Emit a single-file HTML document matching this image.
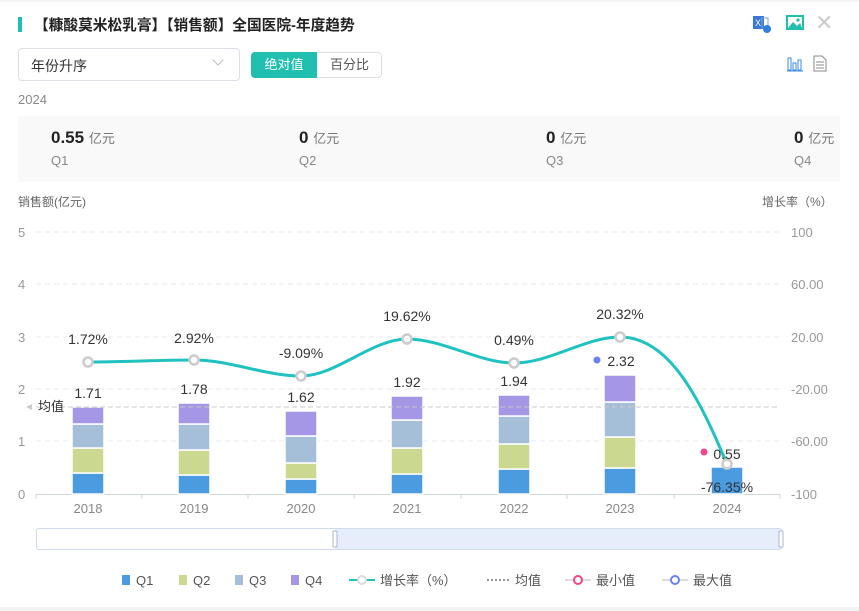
<!DOCTYPE html>
<html><head><meta charset="utf-8"><style>
*{margin:0;padding:0;box-sizing:border-box}
body{width:859px;height:611px;background:#fff;font-family:"Liberation Sans","Noto Sans CJK SC",sans-serif;position:relative;overflow:hidden;color:#333}
.abs{position:absolute}
</style></head><body>
<div class="abs" style="left:0;top:0;width:859px;height:2px;background:#f3f3f3"></div>
<div class="abs" style="left:18px;top:17px;width:4px;height:15px;background:#1fbfb0"></div>
<div class="abs" style="left:34px;top:14px;font-size:14.7px;font-weight:bold;color:#222">【糠酸莫米松乳膏】【销售额】全国医院-年度趋势</div>
<svg class="abs" style="left:752px;top:14px" width="20" height="20"><rect x="1" y="2" width="11" height="13" fill="#3a78d8"/><text x="3" y="12" font-size="9" fill="#fff" font-family="Liberation Sans">X</text><rect x="10" y="4" width="6" height="10" fill="none" stroke="#7aa3e0"/><circle cx="15" cy="15" r="4" fill="#2f7fe0"/></svg>
<svg class="abs" style="left:786px;top:15px" width="18" height="16"><rect x="1" y="1" width="16" height="13" fill="none" stroke="#1fbfb0" stroke-width="2"/><path d="M2 13 L7 7 L11 11 L14 8 L16 13Z" fill="#1fbfb0"/><circle cx="12" cy="5" r="1.6" fill="#1fbfb0"/></svg>
<div class="abs" style="left:815px;top:10px;font-size:22px;color:#ccc">✕</div>
<svg class="abs" style="left:787px;top:56px" width="16" height="16"><rect x="1" y="2" width="3" height="12" fill="none" stroke="#3a8ee0"/><rect x="6" y="7" width="3" height="7" fill="none" stroke="#3a8ee0"/><rect x="11" y="4" width="3" height="10" fill="none" stroke="#3a8ee0"/><line x1="0" y1="15" x2="16" y2="15" stroke="#3a8ee0"/></svg>
<svg class="abs" style="left:813px;top:55px" width="14" height="17"><path d="M1 1 H9 L13 5 V16 H1Z" fill="none" stroke="#888"/><line x1="3" y1="7" x2="11" y2="7" stroke="#888"/><line x1="3" y1="10" x2="11" y2="10" stroke="#888"/><line x1="3" y1="13" x2="11" y2="13" stroke="#888"/></svg>
<div class="abs" style="left:18px;top:48px;width:222px;height:33px;border:1px solid #dcdfe6;border-radius:4px"></div>
<div class="abs" style="left:31px;top:56px;font-size:14px;color:#333">年份升序</div>
<div class="abs" style="left:214px;top:56px;width:8px;height:8px;border-right:1px solid #bbb;border-bottom:1px solid #bbb;transform:rotate(45deg)"></div>
<div class="abs" style="left:251px;top:52px;width:131px;height:26px;border:1px solid #dcdfe6;border-radius:4px"></div>
<div class="abs" style="left:251px;top:52px;width:66px;height:26px;background:#20bfb0;border-radius:4px 0 0 4px;color:#fff;font-size:13px;line-height:26px;text-align:center">绝对值</div>
<div class="abs" style="left:317px;top:52px;width:65px;height:26px;color:#555;font-size:13px;line-height:26px;text-align:center">百分比</div>
<div class="abs" style="left:18px;top:92px;font-size:13px;color:#888">2024</div>
<div class="abs" style="left:18px;top:116px;width:822px;height:66px;background:#f9f9f9"></div>
<div class="abs" style="left:51px;top:128px;font-size:17px;font-weight:bold;color:#222">0.55 <span style="font-size:13px;font-weight:normal;color:#777">亿元</span></div>
<div class="abs" style="left:51px;top:153px;font-size:13px;color:#888">Q1</div>
<div class="abs" style="left:299px;top:128px;font-size:17px;font-weight:bold;color:#222">0 <span style="font-size:13px;font-weight:normal;color:#777">亿元</span></div>
<div class="abs" style="left:299px;top:153px;font-size:13px;color:#888">Q2</div>
<div class="abs" style="left:546px;top:128px;font-size:17px;font-weight:bold;color:#222">0 <span style="font-size:13px;font-weight:normal;color:#777">亿元</span></div>
<div class="abs" style="left:546px;top:153px;font-size:13px;color:#888">Q3</div>
<div class="abs" style="left:794px;top:128px;font-size:17px;font-weight:bold;color:#222">0 <span style="font-size:13px;font-weight:normal;color:#777">亿元</span></div>
<div class="abs" style="left:794px;top:153px;font-size:13px;color:#888">Q4</div>
<div class="abs" style="left:18px;top:193px;font-size:12px;color:#666">销售额(亿元)</div>
<div class="abs" style="left:762px;top:193px;font-size:12px;color:#666">增长率（%）</div>
<svg class="abs" style="left:0;top:0" width="859" height="611" font-family="Liberation Sans, Noto Sans CJK SC, sans-serif">
<g stroke="#e6eaec" stroke-dasharray="5,4">
<line x1="36" y1="232" x2="780" y2="232"/><line x1="36" y1="284" x2="780" y2="284"/><line x1="36" y1="337" x2="780" y2="337"/><line x1="36" y1="389" x2="780" y2="389"/><line x1="36" y1="441" x2="780" y2="441"/>
</g>
<line x1="36" y1="494.5" x2="780" y2="494.5" stroke="#cfd6da"/>
<g stroke="#cfd6da"><line x1="36" y1="494" x2="36" y2="499"/><line x1="142" y1="494" x2="142" y2="499"/><line x1="248" y1="494" x2="248" y2="499"/><line x1="354" y1="494" x2="354" y2="499"/><line x1="461" y1="494" x2="461" y2="499"/><line x1="567" y1="494" x2="567" y2="499"/><line x1="674" y1="494" x2="674" y2="499"/><line x1="780" y1="494" x2="780" y2="499"/></g>
<g fill="#999" font-size="13">
<text x="18" y="237">5</text><text x="18" y="289">4</text><text x="18" y="342">3</text><text x="18" y="394">2</text><text x="18" y="446">1</text><text x="18" y="499">0</text>
<text x="791" y="237">100</text><text x="791" y="289">60.00</text><text x="791" y="342">20.00</text><text x="791" y="394">-20.00</text><text x="791" y="446">-60.00</text><text x="791" y="499">-100</text>
</g>
<g fill="#888" font-size="13" text-anchor="middle">
<text x="88" y="513">2018</text><text x="194" y="513">2019</text><text x="301" y="513">2020</text><text x="407" y="513">2021</text><text x="514" y="513">2022</text><text x="620" y="513">2023</text><text x="727" y="513">2024</text>
</g>
<g stroke="#fff" stroke-width="1.5">
<rect x="72" y="473" width="32" height="21" fill="#4a9be0"/><rect x="72" y="448" width="32" height="25" fill="#cbd88f"/><rect x="72" y="424" width="32" height="24" fill="#a6bfd9"/><rect x="72" y="407" width="32" height="17" fill="#a597e6"/>
<rect x="178" y="475" width="32" height="19" fill="#4a9be0"/><rect x="178" y="450" width="32" height="25" fill="#cbd88f"/><rect x="178" y="424" width="32" height="26" fill="#a6bfd9"/><rect x="178" y="403" width="32" height="21" fill="#a597e6"/>
<rect x="285" y="479" width="32" height="15" fill="#4a9be0"/><rect x="285" y="463" width="32" height="16" fill="#cbd88f"/><rect x="285" y="436" width="32" height="27" fill="#a6bfd9"/><rect x="285" y="411" width="32" height="25" fill="#a597e6"/>
<rect x="391" y="474" width="32" height="20" fill="#4a9be0"/><rect x="391" y="448" width="32" height="26" fill="#cbd88f"/><rect x="391" y="420" width="32" height="28" fill="#a6bfd9"/><rect x="391" y="396" width="32" height="24" fill="#a597e6"/>
<rect x="498" y="469" width="32" height="25" fill="#4a9be0"/><rect x="498" y="444" width="32" height="25" fill="#cbd88f"/><rect x="498" y="416" width="32" height="28" fill="#a6bfd9"/><rect x="498" y="395" width="32" height="21" fill="#a597e6"/>
<rect x="604" y="468" width="32" height="26" fill="#4a9be0"/><rect x="604" y="437" width="32" height="31" fill="#cbd88f"/><rect x="604" y="402" width="32" height="35" fill="#a6bfd9"/><rect x="604" y="375" width="32" height="27" fill="#a597e6"/>
<rect x="711" y="467" width="32" height="27" fill="#4a9be0"/>
</g>
<line x1="36" y1="407" x2="780" y2="407" stroke="#c8c8c8" stroke-dasharray="5,3"/>
<path d="M26 407 L32 404 L32 410Z" fill="#ccc"/>
<text x="38" y="411" font-size="13" fill="#333">均值</text>
<path d="M88 362 C123 362 159 360 194 360 C230 360 265 376 301 376 C336 376 372 339 407 339 C443 339 479 363 514 363 C550 363 585 337 620 337 C670 337 700 400 727 464" fill="none" stroke="#1fc2c0" stroke-width="3"/>
<g fill="#fff" stroke="#ccc" stroke-width="2.5">
<circle cx="88" cy="362" r="4.5"/><circle cx="194" cy="360" r="4.5"/><circle cx="301" cy="376" r="4.5"/><circle cx="407" cy="339" r="4.5"/><circle cx="514" cy="363" r="4.5"/><circle cx="620" cy="337" r="4.5"/><circle cx="727" cy="464" r="4.5"/>
</g>
<g font-size="14" fill="#333" text-anchor="middle">
<text x="88" y="344">1.72%</text><text x="194" y="343">2.92%</text><text x="301" y="358">-9.09%</text><text x="407" y="321">19.62%</text><text x="514" y="345">0.49%</text><text x="620" y="319">20.32%</text><text x="727" y="492">-76.35%</text>
<text x="88" y="398">1.71</text><text x="194" y="394">1.78</text><text x="301" y="402">1.62</text><text x="407" y="387">1.92</text><text x="514" y="386">1.94</text><text x="621" y="366">2.32</text><text x="727" y="459">0.55</text>
</g>
<circle cx="597" cy="360" r="3.5" fill="#6e7ff0"/>
<circle cx="704" cy="452" r="3.5" fill="#f0468a"/>
<rect x="36.5" y="528.5" width="745" height="21" rx="2" fill="#fff" stroke="#d2dbee"/>
<rect x="335" y="529" width="446" height="20" fill="#e6eefc"/>
<rect x="333" y="531" width="4" height="16" rx="1" fill="#fff" stroke="#aab6cc"/>
<rect x="779" y="531" width="4" height="16" rx="1" fill="#fff" stroke="#aab6cc"/>
<g font-size="13" fill="#555">
<rect x="122" y="575" width="8" height="10" fill="#4a9be0"/><text x="136" y="585">Q1</text>
<rect x="179" y="575" width="8" height="10" fill="#cbd88f"/><text x="193" y="585">Q2</text>
<rect x="235" y="575" width="8" height="10" fill="#a6bfd9"/><text x="249" y="585">Q3</text>
<rect x="291" y="575" width="8" height="10" fill="#a597e6"/><text x="305" y="585">Q4</text>
<line x1="349" y1="580" x2="375" y2="580" stroke="#1fc2c0" stroke-width="2"/><circle cx="362" cy="580" r="4" fill="#fff" stroke="#ddd" stroke-width="2"/><text x="380" y="585">增长率（%）</text>
<line x1="487" y1="580" x2="511" y2="580" stroke="#999" stroke-width="2" stroke-dasharray="2,2"/><text x="515" y="585">均值</text>
<line x1="565" y1="580" x2="591" y2="580" stroke="#ddd" stroke-width="2"/><circle cx="578" cy="580" r="4" fill="#fff" stroke="#f0468a" stroke-width="2"/><text x="596" y="585">最小值</text>
<line x1="662" y1="580" x2="688" y2="580" stroke="#ddd" stroke-width="2"/><circle cx="675" cy="580" r="4" fill="#fff" stroke="#6e7ff0" stroke-width="2"/><text x="693" y="585">最大值</text>
</g>
<rect x="0" y="607" width="859" height="4" fill="#f3f3f3"/>
</svg>
</body></html>
